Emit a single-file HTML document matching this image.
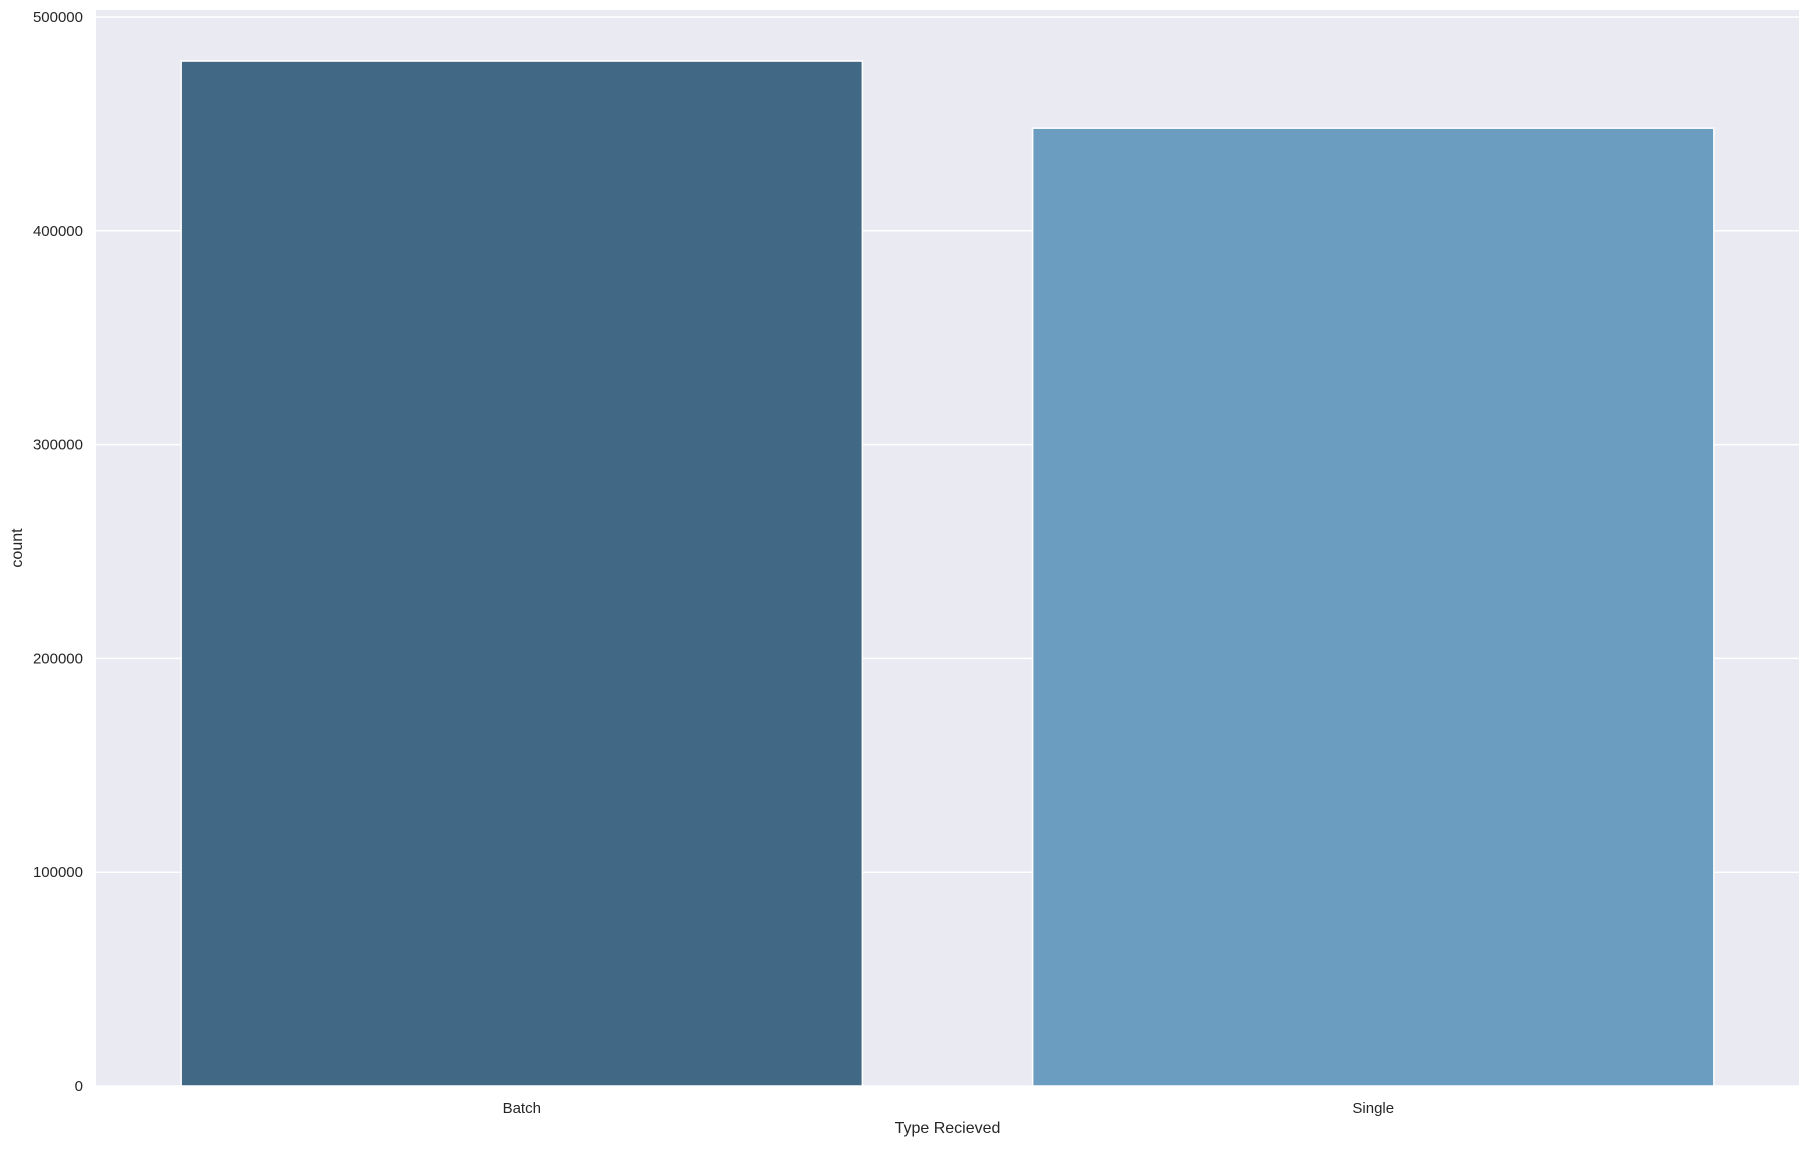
<!DOCTYPE html>
<html><head><meta charset="utf-8"><style>
body{margin:0;background:#fff;font-family:"Liberation Sans",sans-serif}
svg text{font-family:"Liberation Sans",sans-serif;fill:#262626}
</style></head><body>
<svg width="1809" height="1145" id="chart"></svg>
<script>
const categories=["Batch","Single"];
const counts=[479400,448000];
const yTicks=[0,100000,200000,300000,400000,500000];
const colors=["#416986","#6b9dc0"];
const L=96,R=1799,T=10,B=1086;
const yScale=v=>B-(v/500000)*(B-17);
const band=(R-L)/categories.length;
const xCenter=i=>L+band*(i+0.5);
const svg=document.getElementById('chart');
const NS='http://www.w3.org/2000/svg';
function mk(t,a){const e=document.createElementNS(NS,t);for(const k in a)e.setAttribute(k,a[k]);svg.appendChild(e);return e;}
const bg=mk('rect',{x:L,y:T,width:R-L,height:B-T,fill:'#eaeaf2'});


yTicks.forEach(v=>{
  const g=mk('line',{x1:L,x2:R,y1:yScale(v),y2:yScale(v),stroke:'#fff','stroke-width':1.5});
  
  
  const t=mk('text',{x:L-13,y:yScale(v)+5,'text-anchor':'end','font-size':15});
  t.textContent=v;
  
  
});
categories.forEach((c,i)=>{
  const w=band*0.8;
  const r=mk('rect',{x:xCenter(i)-w/2,y:yScale(counts[i]),width:w,height:B-yScale(counts[i]),fill:colors[i],stroke:'#fff','stroke-width':1.5});
  
  
  const t=mk('text',{x:xCenter(i),y:B+27,'text-anchor':'middle','font-size':15});
  t.textContent=c;
  
  
});
const xt=mk('text',{x:(L+R)/2,y:1133,'text-anchor':'middle','font-size':16});
xt.textContent='Type Recieved';


const yt=mk('text',{x:22,y:(T+B)/2,'text-anchor':'middle','font-size':16,transform:`rotate(-90 22 ${(T+B)/2})`});
yt.textContent='count';


</script>
</body></html>
